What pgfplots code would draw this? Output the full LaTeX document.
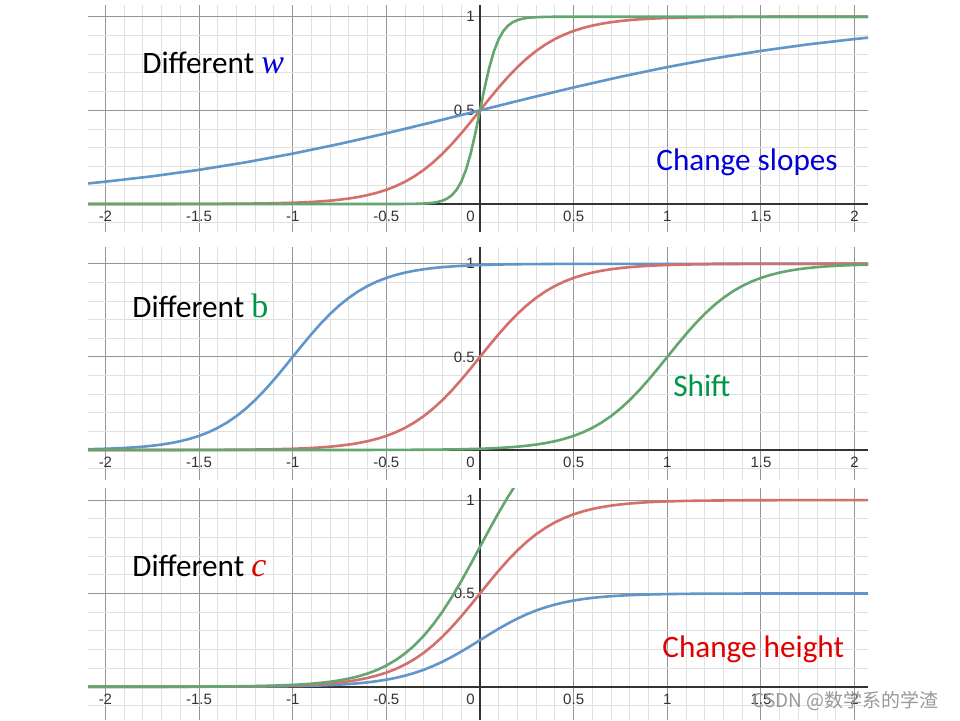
\documentclass[border=0pt]{standalone}
\usepackage{fontspec}
\setmainfont{Carlito}
\newfontfamily\ticksf{Liberation Sans}
\newfontfamily\cambria{Liberation Serif}
\newfontfamily\cjk{Noto Sans CJK SC}
\usepackage{pgfplots}
\usepackage{pgfplotstable}
\pgfplotsset{compat=1.18}

\definecolor{cblue}{RGB}{96,150,202}
\definecolor{cred}{RGB}{212,112,108}
\definecolor{cgreen}{RGB}{100,166,112}
\definecolor{tblue}{RGB}{0,0,215}
\definecolor{tgreen}{RGB}{0,150,70}
\definecolor{tred}{RGB}{225,0,0}

% sigma(x), w = 1
\pgfplotstableread{
x y
-2.1 0.1091
-2.0 0.1192
-1.75 0.1480
-1.5 0.1824
-1.25 0.2227
-1.0 0.2689
-0.75 0.3208
-0.5 0.3775
-0.25 0.4378
0 0.5
0.25 0.5622
0.5 0.6225
0.75 0.6792
1.0 0.7311
1.25 0.7773
1.5 0.8176
1.75 0.8520
2.0 0.8808
2.1 0.8909
}\wone

% w = 5, b = 0, c = 1 (red in all panels)
\pgfplotstableread{
x y
-2.1 0.0000
-1.6 0.0003
-1.4 0.0009
-1.2 0.0025
-1.1 0.0041
-1.0 0.0067
-0.95 0.0086
-0.9 0.0110
-0.85 0.0141
-0.8 0.0180
-0.75 0.0230
-0.7 0.0293
-0.65 0.0373
-0.6 0.0474
-0.55 0.0601
-0.5 0.0759
-0.45 0.0953
-0.4 0.1192
-0.35 0.1480
-0.3 0.1824
-0.25 0.2227
-0.2 0.2689
-0.15 0.3208
-0.1 0.3775
-0.05 0.4378
0 0.5
0.05 0.5622
0.1 0.6225
0.15 0.6792
0.2 0.7311
0.25 0.7773
0.3 0.8176
0.35 0.8520
0.4 0.8808
0.45 0.9047
0.5 0.9241
0.55 0.9399
0.6 0.9526
0.65 0.9627
0.7 0.9707
0.75 0.9770
0.8 0.9820
0.85 0.9859
0.9 0.9890
0.95 0.9914
1.0 0.9933
1.1 0.9959
1.2 0.9975
1.4 0.9991
1.6 0.9997
2.1 1.0000
}\base

% w = 20
\pgfplotstableread{
x y
-2.1 0.0000
-0.5 0.0000
-0.4 0.0003
-0.35 0.0009
-0.3 0.0025
-0.275 0.0041
-0.25 0.0067
-0.225 0.0110
-0.2 0.0180
-0.175 0.0293
-0.15 0.0474
-0.125 0.0759
-0.1 0.1192
-0.075 0.1824
-0.05 0.2689
-0.025 0.3775
0 0.5
0.025 0.6225
0.05 0.7311
0.075 0.8176
0.1 0.8808
0.125 0.9241
0.15 0.9526
0.175 0.9707
0.2 0.9820
0.225 0.9890
0.25 0.9933
0.275 0.9959
0.3 0.9975
0.35 0.9991
0.4 0.9997
0.5 1.0000
2.1 1.0000
}\wtwenty

% b = +5 (shift left)
\pgfplotstableread{
x y
-2.1 0.0041
-2.0 0.0067
-1.95 0.0086
-1.9 0.0110
-1.85 0.0141
-1.8 0.0180
-1.75 0.0230
-1.7 0.0293
-1.65 0.0373
-1.6 0.0474
-1.55 0.0601
-1.5 0.0759
-1.45 0.0953
-1.4 0.1192
-1.35 0.1480
-1.3 0.1824
-1.25 0.2227
-1.2 0.2689
-1.15 0.3208
-1.1 0.3775
-1.05 0.4378
-1.0 0.5
-0.95 0.5622
-0.9 0.6225
-0.85 0.6792
-0.8 0.7311
-0.75 0.7773
-0.7 0.8176
-0.65 0.8520
-0.6 0.8808
-0.55 0.9047
-0.5 0.9241
-0.45 0.9399
-0.4 0.9526
-0.35 0.9627
-0.3 0.9707
-0.25 0.9770
-0.2 0.9820
-0.15 0.9859
-0.1 0.9890
-0.05 0.9914
0 0.9933
0.1 0.9959
0.2 0.9975
0.4 0.9991
0.6 0.9997
2.1 1.0000
}\bleft

% b = -5 (shift right)
\pgfplotstableread{
x y
-2.1 0.0000
-0.6 0.0003
-0.4 0.0009
-0.2 0.0025
-0.1 0.0041
0 0.0067
0.05 0.0086
0.1 0.0110
0.15 0.0141
0.2 0.0180
0.25 0.0230
0.3 0.0293
0.35 0.0373
0.4 0.0474
0.45 0.0601
0.5 0.0759
0.55 0.0953
0.6 0.1192
0.65 0.1480
0.7 0.1824
0.75 0.2227
0.8 0.2689
0.85 0.3208
0.9 0.3775
0.95 0.4378
1.0 0.5
1.05 0.5622
1.1 0.6225
1.15 0.6792
1.2 0.7311
1.25 0.7773
1.3 0.8176
1.35 0.8520
1.4 0.8808
1.45 0.9047
1.5 0.9241
1.55 0.9399
1.6 0.9526
1.65 0.9627
1.7 0.9707
1.75 0.9770
1.8 0.9820
1.85 0.9859
1.9 0.9890
1.95 0.9914
2.0 0.9933
2.1 0.9959
}\bright

% c = 0.5
\pgfplotstableread{
x y
-2.1 0.0000
-1.6 0.0002
-1.4 0.0005
-1.2 0.0013
-1.1 0.0021
-1.0 0.0034
-0.95 0.0043
-0.9 0.0055
-0.85 0.0071
-0.8 0.0090
-0.75 0.0115
-0.7 0.0147
-0.65 0.0187
-0.6 0.0237
-0.55 0.0301
-0.5 0.0380
-0.45 0.0477
-0.4 0.0596
-0.35 0.0740
-0.3 0.0912
-0.25 0.1114
-0.2 0.1345
-0.15 0.1604
-0.1 0.1888
-0.05 0.2189
0 0.25
0.05 0.2811
0.1 0.3113
0.15 0.3396
0.2 0.3656
0.25 0.3887
0.3 0.4088
0.35 0.4260
0.4 0.4404
0.45 0.4524
0.5 0.4621
0.55 0.4700
0.6 0.4763
0.65 0.4814
0.7 0.4854
0.75 0.4885
0.8 0.4910
0.85 0.4930
0.9 0.4945
0.95 0.4957
1.0 0.4967
1.1 0.4980
1.2 0.4988
1.4 0.4995
1.6 0.4998
2.1 0.5000
}\chalf

% c = 1.5
\pgfplotstableread{
x y
-2.1 0.0000
-1.6 0.0005
-1.4 0.0014
-1.2 0.0037
-1.1 0.0062
-1.0 0.0101
-0.95 0.0129
-0.9 0.0165
-0.85 0.0212
-0.8 0.0270
-0.75 0.0345
-0.7 0.0440
-0.65 0.0560
-0.6 0.0711
-0.55 0.0902
-0.5 0.1139
-0.45 0.1430
-0.4 0.1788
-0.35 0.2220
-0.3 0.2736
-0.25 0.3341
-0.2 0.4034
-0.15 0.4812
-0.1 0.5663
-0.05 0.6567
0 0.75
0.05 0.8433
0.1 0.9338
0.15 1.0188
0.2 1.0967
0.25 1.1660
}\conehalf

\pgfplotsset{
  panel/.style={
    scale only axis, width=390pt, anchor=south west,
    xmin=-2.093, xmax=2.0715,
    axis lines=middle,
    axis line style={-, draw=black!80, line width=1pt},
    hide obscured x ticks=false, hide obscured y ticks=false,
    xtick={-2,-1.5,-1,-0.5,0,0.5,1,1.5,2},
    xticklabels={-2,-1.5,-1,-0.5,,0.5,1,1.5,2},
    ytick={0,0.5,1}, yticklabels={,0.5,1},
    minor xtick={-2,-1.9,...,2},
    minor ytick={-0.1,0,...,1},
    grid=both,
    major grid style={black!42, line width=0.5pt},
    minor grid style={black!12, line width=0.5pt},
    major tick length=0pt, minor tick length=0pt,
    ticklabel style={font=\ticksf\fontsize{7.5}{8}\selectfont, text=black!80},
    xticklabel style={anchor=north, inner sep=1pt, yshift=-2.5pt},
    yticklabel style={anchor=east, inner sep=1pt, xshift=-1.5pt},
    every axis plot/.append style={line width=1.3pt, no marks},
  },
}
\tikzset{zero/.style={anchor=north east, inner sep=1pt, xshift=-1.5pt, yshift=-2.5pt,
    font=\ticksf\fontsize{7.5}{8}\selectfont, text=black!80}}

\begin{document}
\begin{tikzpicture}
\path[use as bounding box] (0pt,0pt) rectangle (480pt,360pt);
\fill[white] (0pt,0pt) rectangle (480pt,360pt);

% different w
\begin{axis}[panel, at={(44pt,244pt)}, height=113.5pt, ymin=-0.1495, ymax=1.0625]
\addplot[cblue] table {\wone};
\addplot[cred] table {\base};
\addplot[cgreen] table {\wtwenty};
\node[zero] at (axis cs:0,0) {0};
\end{axis}

% different b
\begin{axis}[panel, at={(44pt,120pt)}, height=116.5pt, ymin=-0.161, ymax=1.09]
\addplot[cblue] table {\bleft};
\addplot[cred] table {\base};
\addplot[cgreen] table {\bright};
\node[zero] at (axis cs:0,0) {0};
\end{axis}

% different c
\begin{axis}[panel, at={(44pt,0pt)}, height=116pt, ymin=-0.178, ymax=1.065]
\addplot[cblue] table {\chalf};
\addplot[cred] table {\base};
\addplot[cgreen] table {\conehalf};
\node[zero] at (axis cs:0,0) {0};
\end{axis}

\begin{scope}[every node/.style={anchor=base west, inner sep=0pt, font=\fontsize{15.6}{18}\selectfont}]
\node at (71pt,323.5pt) {Different {\color{tblue}\cambria\itshape\fontsize{17}{18}\selectfont w}};
\node[text=tblue] at (328pt,275pt) {Change slopes};
\node at (66pt,201.3pt) {Different {\color{tgreen}\cambria\fontsize{17}{18}\selectfont b}};
\node[text=tgreen] at (336.5pt,162pt) {Shift};
\node at (66pt,71.7pt) {Different {\color{tred}\cambria\itshape\fontsize{17}{18}\selectfont c}};
\node[text=tred] at (331pt,31.3pt) {Change height};
\end{scope}
\node[anchor=base west, inner sep=0pt, text=black!40, font=\cjk\fontsize{9.5}{10}\selectfont]
  at (376pt,6.5pt) {CSDN @数学系的学渣};
\end{tikzpicture}
\end{document}
